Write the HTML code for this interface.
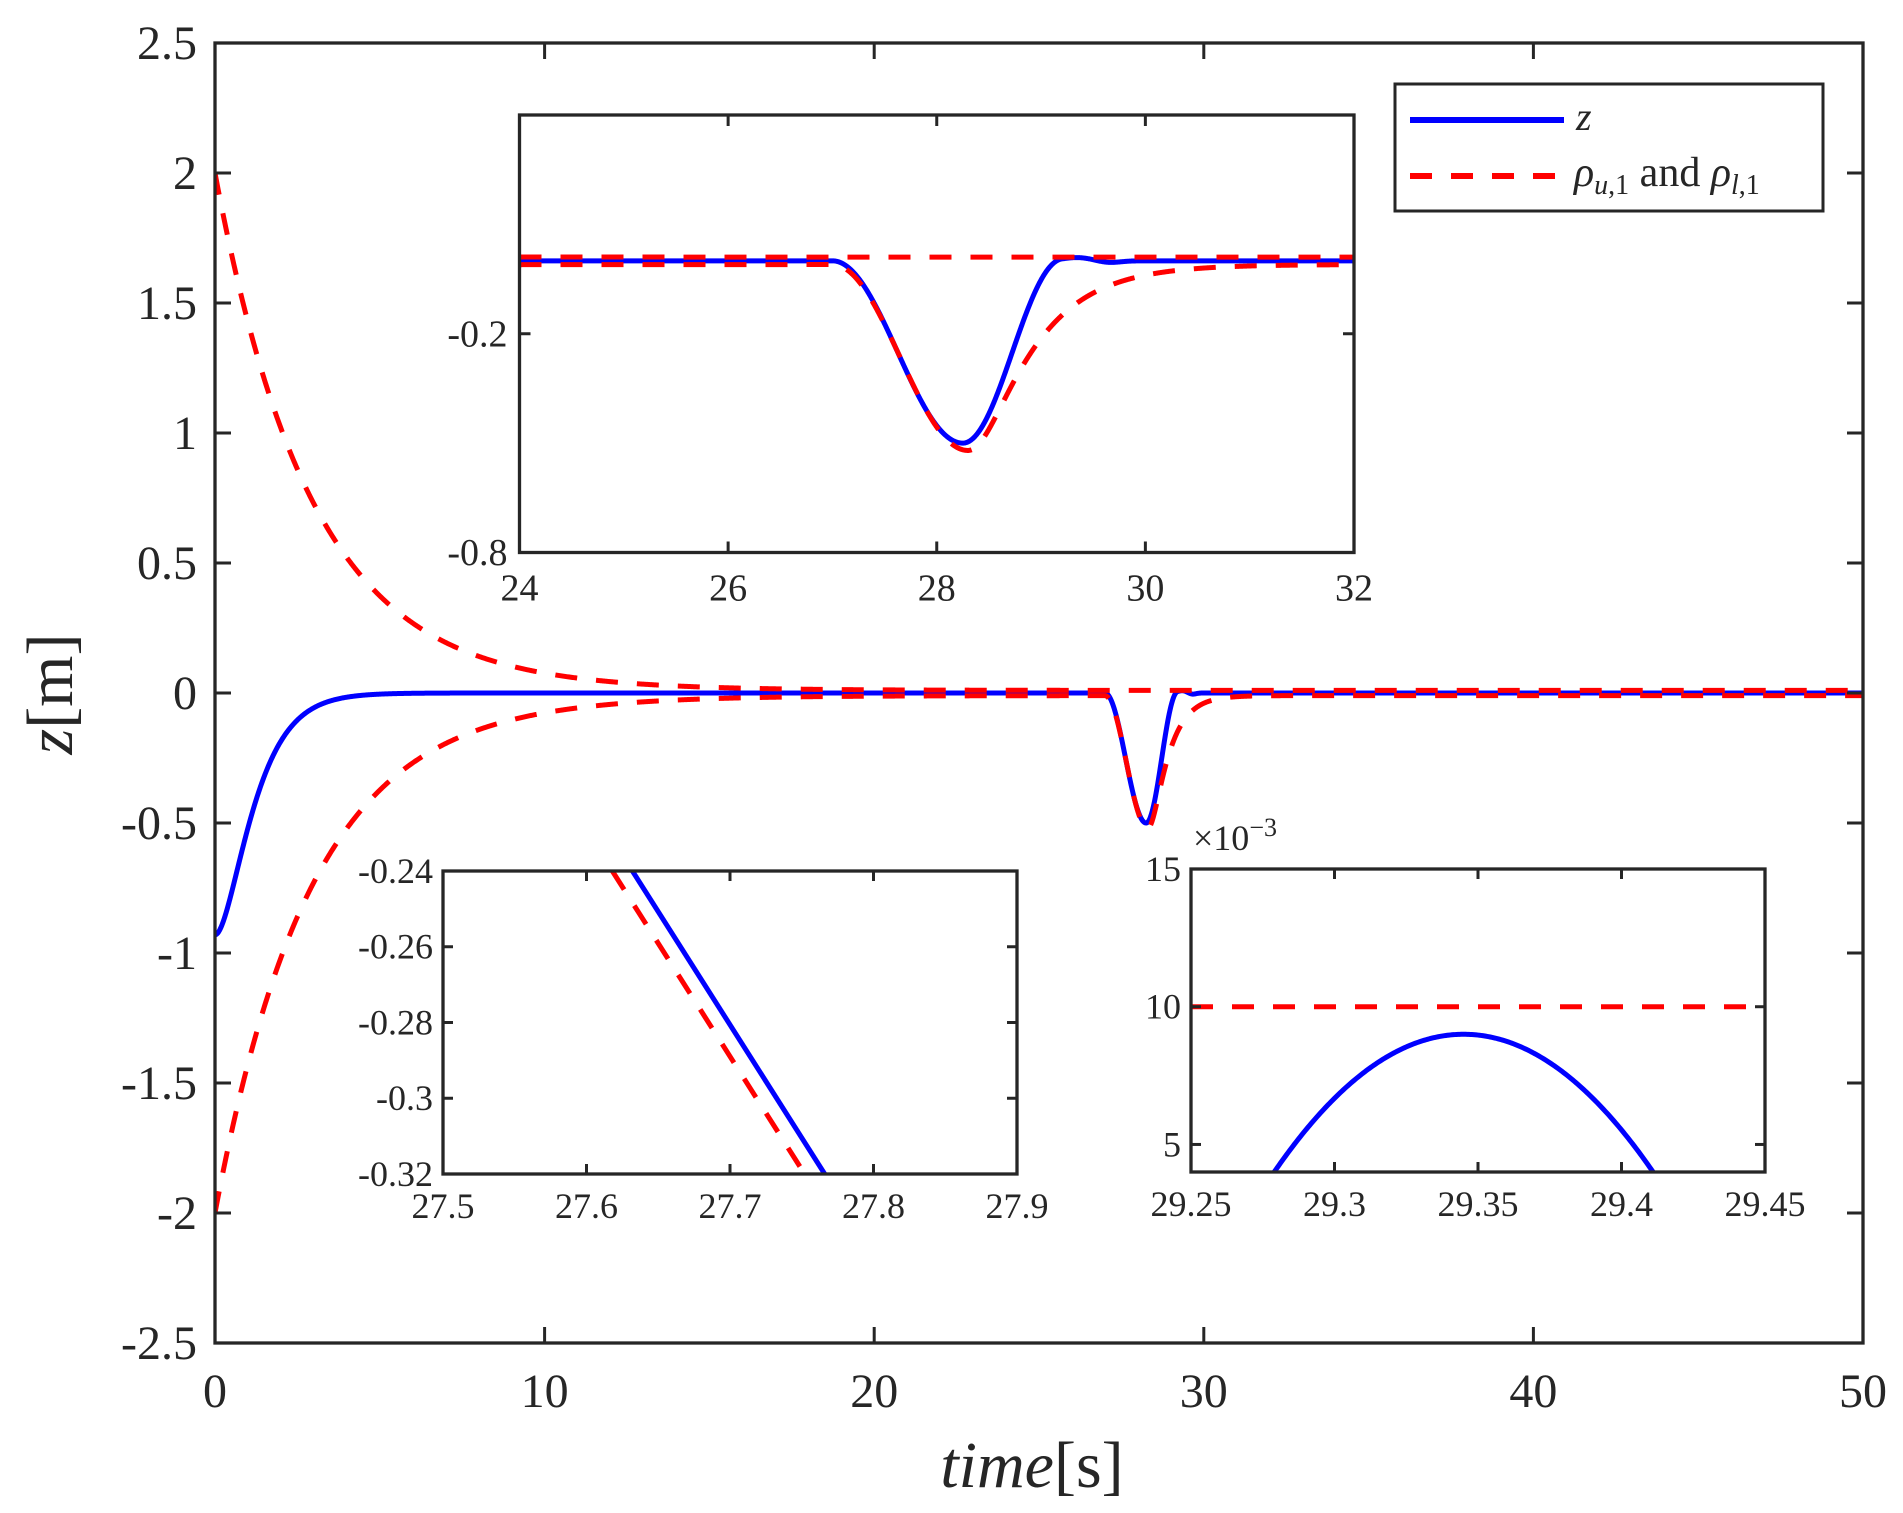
<!DOCTYPE html>
<html><head><meta charset="utf-8"><style>
html,body{margin:0;padding:0;background:#fff;}
svg{display:block;}
text{font-family:"Liberation Serif",serif;fill:#262626;}
</style></head><body>
<svg id="s" width="1903" height="1513" viewBox="0 0 1903 1513" xmlns="http://www.w3.org/2000/svg">
<rect width="1903" height="1513" fill="#fff"/>
<defs>
<clipPath id="cm"><rect x="215" y="43" width="1648" height="1300"/></clipPath>
<clipPath id="c1"><rect x="519.5" y="115" width="834.5" height="437.5"/></clipPath>
<clipPath id="c2"><rect x="443" y="871" width="574" height="303"/></clipPath>
<clipPath id="c3"><rect x="1191" y="869" width="574" height="303"/></clipPath>
</defs>
<g id="g"></g>
<text x="1032" y="1487" font-size="66" text-anchor="middle"><tspan font-style="italic">time</tspan>[s]</text>
<text transform="translate(72,694) rotate(-90)" font-size="66" text-anchor="middle"><tspan font-style="italic">z</tspan>[m]</text>
<text x="1193" y="850" font-size="36">×10<tspan dy="-14" font-size="26">−3</tspan></text>
</svg>
<script>
var NS="http://www.w3.org/2000/svg",G=document.getElementById("g");
function el(t,a,txt){var e=document.createElementNS(NS,t);for(var k in a)e.setAttribute(k,a[k]);if(txt!=null)e.textContent=txt;G.appendChild(e);return e;}
function zf(t){
 var v=0;
 if(t<10) v+=-0.93*(1+1.5*t)*Math.exp(-1.5*t);
 if(t>=27&&t<28.25) v+=-0.5*(1-Math.cos(Math.PI*(t-27)/1.25))/2;
 else if(t>=28.25&&t<29.2) v+=-0.5*(1+Math.cos(Math.PI*(t-28.25)/0.95))/2;
 if(t>28.9) v+=0.009*Math.exp(-Math.pow((t-29.345)/0.2,2))-0.005*Math.exp(-Math.pow((t-29.65)/0.15,2));
 return v;}
function up(t){return 1.99*Math.exp(-0.34*t)+0.01;}
function lo(t){
 var b=-up(t);
 if(t>=27&&t<28.3) b-=0.51*(1-Math.cos(Math.PI*(t-27)/1.3))/2;
 else if(t>=28.3){var dt=t-28.3;var g=Math.sqrt(dt*dt+0.09)-0.3;b-=0.51*Math.exp(-g/0.5);}
 return b;}
function path(f,x0,x1,X,Y,n){var d="";for(var i=0;i<=n;i++){var t=x0+(x1-x0)*i/n;d+=(i?"L":"M")+X(t).toFixed(2)+" "+Y(f(t)).toFixed(2);}return d;}
function axes(L,T,R,B,xmin,xmax,ymin,ymax,xt,xl,yt,yl,tl,fs,xoff,yoff){
 var X=function(v){return L+(v-xmin)/(xmax-xmin)*(R-L);},Y=function(v){return B-(v-ymin)/(ymax-ymin)*(B-T);};
 el("rect",{x:L,y:T,width:R-L,height:B-T,fill:"#fff",stroke:"none"});
 return {X:X,Y:Y,draw:function(){
 for(var i=0;i<xt.length;i++){var x=X(xt[i]);
  el("line",{x1:x,y1:B,x2:x,y2:B-tl,stroke:"#262626","stroke-width":3});
  el("line",{x1:x,y1:T,x2:x,y2:T+tl,stroke:"#262626","stroke-width":3});
  if(xl[i]!=null) el("text",{x:x,y:B+xoff,"font-size":fs,"text-anchor":"middle"},xl[i]);}
 for(var i=0;i<yt.length;i++){var y=Y(yt[i]);
  el("line",{x1:L,y1:y,x2:L+tl,y2:y,stroke:"#262626","stroke-width":3});
  el("line",{x1:R,y1:y,x2:R-tl,y2:y,stroke:"#262626","stroke-width":3});
  if(yl[i]!=null) el("text",{x:L-yoff,y:y+fs*0.33,"font-size":fs,"text-anchor":"end"},yl[i]);}
 el("rect",{x:L,y:T,width:R-L,height:B-T,fill:"none",stroke:"#262626","stroke-width":3.3});
 }};}
var BL="#0000ff",RD="#ff0000";
var m=axes(215,43,1863,1343,0,50,-2.5,2.5,[0,10,20,30,40,50],["0","10","20","30","40","50"],
 [-2.5,-2,-1.5,-1,-0.5,0,0.5,1,1.5,2,2.5],["-2.5","-2","-1.5","-1","-0.5","0","0.5","1","1.5","2","2.5"],16,48,64,18);
var gm=el("g",{"clip-path":"url(#cm)"});
function P(parent,d,c,dash){var e=document.createElementNS(NS,"path");e.setAttribute("d",d);e.setAttribute("fill","none");e.setAttribute("stroke",c);e.setAttribute("stroke-width",5);e.setAttribute("stroke-linejoin","round");if(dash)e.setAttribute("stroke-dasharray",dash);parent.appendChild(e);}
P(gm,path(zf,0,50,m.X,m.Y,3000),BL);
P(gm,path(up,0,50,m.X,m.Y,2000),RD,"22 19");
P(gm,path(lo,0,50,m.X,m.Y,3000),RD,"22 19");
m.draw();
var a1=axes(519.5,115,1354,552.5,24,32,-0.8,0.4,[24,26,28,30,32],["24","26","28","30","32"],[-0.8,-0.2,0.4],["-0.8","-0.2",null],11,38,48,12);
var g1=el("g",{"clip-path":"url(#c1)"});
P(g1,path(zf,24,32,a1.X,a1.Y,1500),BL);
P(g1,path(up,24,32,a1.X,a1.Y,500),RD,"22 19");
P(g1,path(lo,24,32,a1.X,a1.Y,1500),RD,"22 19");
a1.draw();
var a2=axes(443,871,1017,1174,27.5,27.9,-0.32,-0.24,[27.5,27.6,27.7,27.8,27.9],["27.5","27.6","27.7","27.8","27.9"],
 [-0.32,-0.3,-0.28,-0.26,-0.24],["-0.32","-0.3","-0.28","-0.26","-0.24"],10,36,44,10);
var g2=el("g",{"clip-path":"url(#c2)"});
P(g2,"M"+a2.X(27.632)+" "+a2.Y(-0.24)+"L"+a2.X(27.766)+" "+a2.Y(-0.32),BL);
P(g2,"M"+a2.X(27.618)+" "+a2.Y(-0.24)+"L"+a2.X(27.752)+" "+a2.Y(-0.32),RD,"22 19");
a2.draw();
var a3=axes(1191,869,1765,1172,29.25,29.45,4,15,[29.25,29.3,29.35,29.4,29.45],["29.25","29.3","29.35","29.4","29.45"],
 [5,10,15],["5","10","15"],10,36,44,10);
var g3=el("g",{"clip-path":"url(#c3)"});
P(g3,path(function(t){var u=(t-29.345)/0.066;return 9-5*u*u;},29.27,29.43,a3.X,a3.Y,300),BL);
P(g3,"M1191 "+a3.Y(10)+"L1765 "+a3.Y(10),RD,"22 19");
a3.draw();
el("rect",{x:1395,y:84,width:428,height:127,fill:"#fff",stroke:"#262626","stroke-width":3});
el("line",{x1:1410,y1:120,x2:1564,y2:120,stroke:BL,"stroke-width":6});
el("line",{x1:1410,y1:176,x2:1564,y2:176,stroke:RD,"stroke-width":6,"stroke-dasharray":"22 19"});
el("text",{x:1576,y:130,"font-size":40,"font-style":"italic"},"z");
var t=el("text",{x:1574,y:186,"font-size":42});
t.innerHTML='<tspan font-style="italic">ρ</tspan><tspan font-size="28" dy="8" font-style="italic">u</tspan><tspan font-size="28">,1</tspan><tspan dy="-8"> and </tspan><tspan font-style="italic">ρ</tspan><tspan font-size="28" dy="8" font-style="italic">l</tspan><tspan font-size="28">,1</tspan>';
</script>
</body></html>
